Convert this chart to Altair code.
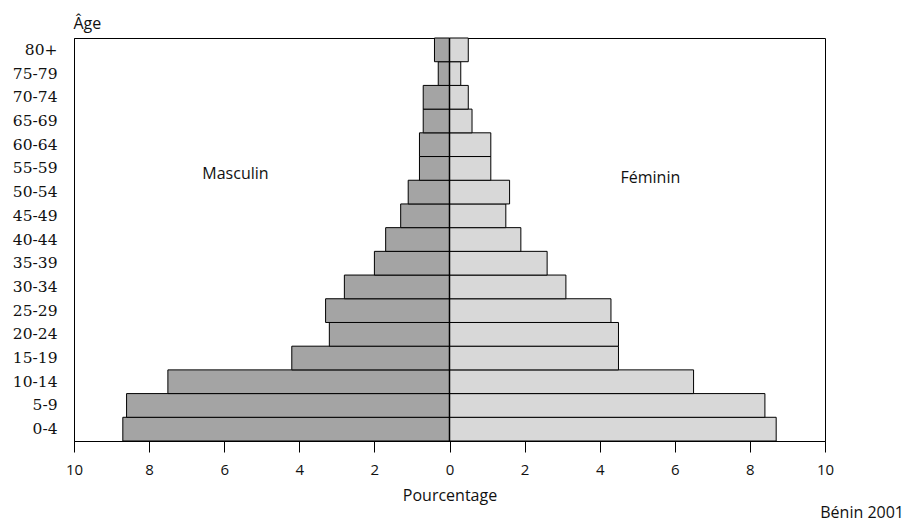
import altair as alt
import pandas as pd

ages = ["0-4", "5-9", "10-14", "15-19", "20-24", "25-29", "30-34", "35-39",
        "40-44", "45-49", "50-54", "55-59", "60-64", "65-69", "70-74", "75-79", "80+"]
male = [8.7, 8.6, 7.5, 4.2, 3.2, 3.3, 2.8, 2.0, 1.7, 1.3, 1.1, 0.8, 0.8, 0.7, 0.7, 0.3, 0.4]
female = [8.7, 8.4, 6.5, 4.5, 4.5, 4.3, 3.1, 2.6, 1.9, 1.5, 1.6, 1.1, 1.1, 0.6, 0.5, 0.3, 0.5]
sexes = ["Masculin", "Féminin"]
x_ticks = [-10, -8, -6, -4, -2, 0, 2, 4, 6, 8, 10]

rows = []
for a, m, f in zip(ages, male, female):
    rows.append({"age": a, "sexe": "Masculin", "pct": -m})
    rows.append({"age": a, "sexe": "Féminin", "pct": f})
df = pd.DataFrame(rows)

order = list(reversed(ages))
SANS = "Open Sans"
SERIF = "DejaVu Serif"

xscale = alt.Scale(domain=[-10, 10], nice=False, zero=False)
yscale = alt.Scale(domain=order, paddingInner=0, paddingOuter=0)

bars = alt.Chart(df).mark_bar(stroke="black", strokeWidth=1).encode(
    x=alt.X("pct:Q", scale=xscale, stack=None,
            axis=alt.Axis(values=x_ticks, labelExpr="abs(datum.value)",
                          title="Pourcentage", grid=False, tickSize=11,
                          labelPadding=10, labelFont=SANS, labelFontSize=15,
                          titleFont=SANS, titleFontSize=16, titleFontWeight="normal",
                          titleBaseline="alphabetic", titleY=59, titleColor="#111",
                          labelColor="#111", domainColor="black", tickColor="black",
                          labelFlush=False)),
    y=alt.Y("age:N", scale=yscale, sort=order,
            axis=alt.Axis(title="Âge", titleAngle=0, titleAlign="left",
                          titleBaseline="alphabetic", titleX=-1, titleY=-10,
                          titleFont=SANS, titleFontSize=16, titleFontWeight="normal",
                          titleColor="#111", ticks=False, tickSize=0,
                          labelPadding=17, labelFont=SERIF, labelFontSize=15.5,
                          labelColor="#111", domainColor="black", grid=False)),
    color=alt.Color("sexe:N", scale=alt.Scale(domain=sexes, range=["#a4a4a4", "#d8d8d8"]),
                    legend=None),
)

center = alt.Chart(pd.DataFrame({"z": [0]})).mark_rule(color="black", strokeWidth=1.5).encode(
    x=alt.X("z:Q", scale=xscale)
)

masc = alt.Chart(pd.DataFrame({"txt": ["Masculin"], "x": [-5.7], "age": ["55-59"]})).mark_text(
    font=SANS, fontSize=16, color="#111", baseline="middle", dy=6
).encode(x=alt.X("x:Q", scale=xscale), y=alt.Y("age:N", scale=yscale, sort=order), text="txt:N")

fem = alt.Chart(pd.DataFrame({"txt": ["Féminin"], "x": [5.35], "age": ["55-59"]})).mark_text(
    font=SANS, fontSize=16, color="#111", baseline="middle", dy=10
).encode(x=alt.X("x:Q", scale=xscale), y=alt.Y("age:N", scale=yscale, sort=order), text="txt:N")

source = alt.Chart(pd.DataFrame({"t": ["Bénin 2001"]})).mark_text(
    font=SANS, fontSize=16, color="#111", align="right", baseline="alphabetic"
).encode(x=alt.value(830), y=alt.value(480), text="t:N")

chart = alt.layer(bars, center, masc, fem, source).properties(
    width=751, height=403,
    autosize=alt.AutoSizeParams(type="none"),
    padding={"left": 66, "top": 30, "right": 81, "bottom": 83},
).configure_view(stroke="black", strokeWidth=1)

chart.save("out.html", embed_options={"renderer": "svg", "actions": False})
